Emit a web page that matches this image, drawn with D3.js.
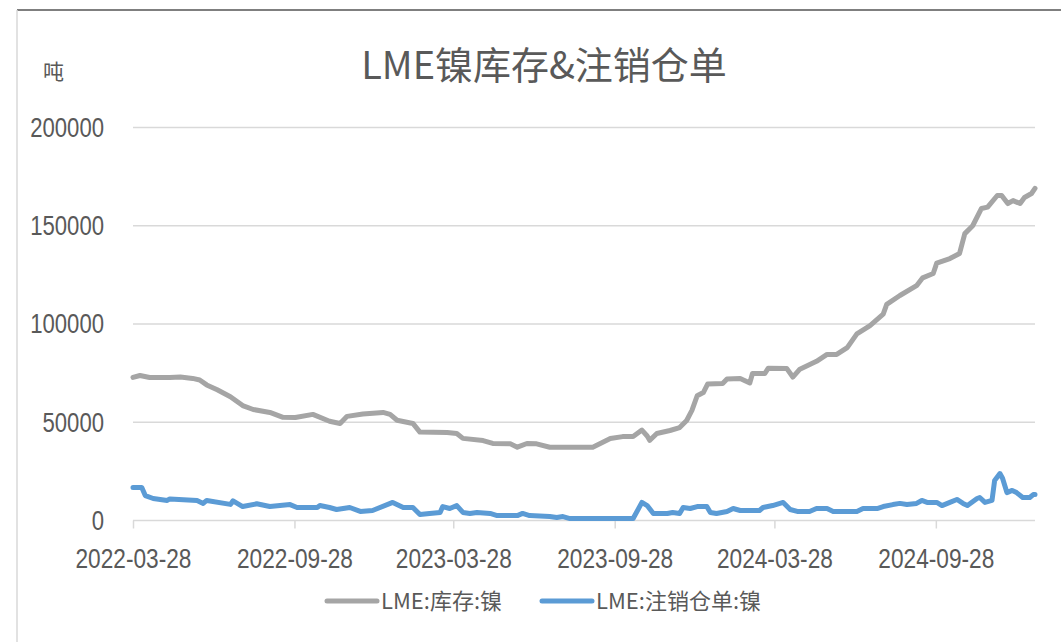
<!DOCTYPE html>
<html>
<head>
<meta charset="utf-8">
<script src="https://cdn.jsdelivr.net/npm/d3@7"></script>
<style>
  html, body { margin: 0; padding: 0; background: #fff; }
  svg { display: block; }
</style>
</head>
<body>
<svg id="chart" width="1061" height="642"></svg>
<script>
// ---- Data ----
const title = "LME镍库存&注销仓单";
const unitLabel = "吨";
const seriesNames = ["LME:库存:镍", "LME:注销仓单:镍"];
const xTickLabels = ["2022-03-28", "2022-09-28", "2023-03-28", "2023-09-28", "2024-03-28", "2024-09-28"];
const yTickValues = [0, 50000, 100000, 150000, 200000];
const xDomain = ["2022-03-28", "2025-01-19"];

const stockDates = ["2022-03-28","2022-04-05","2022-04-16","2022-05-09","2022-05-21","2022-06-04","2022-06-12","2022-06-20","2022-07-02","2022-07-17","2022-07-31","2022-08-12","2022-08-31","2022-09-15","2022-09-29","2022-10-19","2022-11-07","2022-11-19","2022-11-27","2022-12-15","2023-01-07","2023-01-15","2023-01-23","2023-02-10","2023-02-18","2023-03-21","2023-04-01","2023-04-08","2023-05-01","2023-05-12","2023-06-01","2023-06-09","2023-06-20","2023-07-01","2023-07-16","2023-09-03","2023-09-23","2023-10-07","2023-10-19","2023-10-29","2023-11-04","2023-11-07","2023-11-15","2023-11-30","2023-12-11","2023-12-19","2023-12-25","2023-12-31","2024-01-07","2024-01-12","2024-01-29","2024-02-03","2024-02-18","2024-02-29","2024-03-03","2024-03-17","2024-03-21","2024-04-11","2024-04-18","2024-04-26","2024-05-15","2024-05-27","2024-06-07","2024-06-19","2024-06-30","2024-07-15","2024-07-30","2024-08-03","2024-08-18","2024-09-06","2024-09-13","2024-09-25","2024-09-29","2024-10-14","2024-10-25","2024-10-31","2024-11-09","2024-11-19","2024-11-26","2024-12-07","2024-12-12","2024-12-19","2024-12-25","2025-01-02","2025-01-07","2025-01-15","2025-01-19"];
const stockValues = [72800,73800,72800,72800,73000,72300,71500,69000,66500,63000,58500,56500,55000,52500,52400,54000,50500,49400,53000,54200,55000,54000,51000,49400,45000,44800,44300,41800,40700,39200,39000,37300,39200,39000,37300,37300,41700,42700,42700,46000,43000,40800,44300,45800,47300,50900,56000,63500,65100,69500,69700,72000,72300,70000,74800,74800,77500,77400,73000,77000,81000,84500,84500,88000,95000,99200,105000,110000,114500,119500,123500,125700,131000,133300,135900,146000,150000,158800,159500,165400,165400,161300,162800,161300,164400,166400,169000];

const cancelDates = ["2022-03-28","2022-04-07","2022-04-11","2022-04-20","2022-05-06","2022-05-09","2022-06-09","2022-06-16","2022-06-20","2022-07-17","2022-07-20","2022-07-31","2022-08-16","2022-08-31","2022-09-23","2022-10-01","2022-10-24","2022-10-27","2022-11-07","2022-11-15","2022-11-30","2022-12-12","2022-12-26","2023-01-18","2023-01-30","2023-02-10","2023-02-18","2023-03-01","2023-03-13","2023-03-16","2023-03-24","2023-04-01","2023-04-08","2023-04-16","2023-04-24","2023-05-09","2023-05-17","2023-06-09","2023-06-15","2023-06-23","2023-07-16","2023-07-24","2023-07-31","2023-08-08","2023-10-19","2023-10-29","2023-11-04","2023-11-11","2023-11-27","2023-12-03","2023-12-11","2023-12-15","2023-12-23","2023-12-31","2024-01-11","2024-01-15","2024-01-22","2024-02-03","2024-02-10","2024-02-18","2024-03-11","2024-03-15","2024-03-26","2024-04-07","2024-04-15","2024-04-23","2024-05-07","2024-05-15","2024-05-27","2024-06-03","2024-06-30","2024-07-07","2024-07-23","2024-07-30","2024-08-10","2024-08-18","2024-08-26","2024-09-06","2024-09-12","2024-09-18","2024-09-29","2024-10-05","2024-10-14","2024-10-22","2024-10-29","2024-11-03","2024-11-14","2024-11-17","2024-11-23","2024-12-01","2024-12-04","2024-12-10","2024-12-13","2024-12-18","2024-12-24","2024-12-29","2025-01-05","2025-01-13","2025-01-17","2025-01-19"];
const cancelValues = [16800,16800,12700,11200,10200,11000,10200,8700,10200,8200,10000,7100,8500,7100,8100,6600,6600,7600,6600,5600,6600,4600,5100,9200,6600,6600,3000,3600,4100,7100,6100,7600,4100,3600,4100,3600,2500,2500,3600,2500,2000,1500,2000,1000,1000,9200,7600,3600,3600,4100,3600,6600,6100,7100,7100,4100,3600,4600,6100,5100,5100,6600,7600,9200,5600,4600,4600,6100,6100,4600,4600,6100,6100,7100,8100,8700,8100,8700,10200,9200,9200,7600,9200,10700,8700,7600,11200,11700,9200,10200,20400,23900,21500,14200,15300,14200,11700,11700,13200,13200];

// ---- Drawing ----
const parse = d3.timeParse("%Y-%m-%d");
const svg = d3.select("#chart");
const textColor = "#595959";
const gridColor = "#d9d9d9";
const colors = ["#a5a5a5", "#5b9bd5"];
const numFont = "'Liberation Sans', Arial, sans-serif";
const cjkFont = "'Noto Sans CJK SC', 'Noto Sans', sans-serif";

const x = d3.scaleTime().domain(xDomain.map(parse)).range([133, 1035]);
const y = d3.scaleLinear().domain([0, 200000]).range([520.5, 127.5]);

// chart frame
svg.append("line").attr("x1", 17).attr("x2", 1061).attr("y1", 10).attr("y2", 10)
  .attr("stroke", "#7f7f7f").attr("stroke-width", 2);
svg.append("line").attr("x1", 17).attr("x2", 17).attr("y1", 10).attr("y2", 642)
  .attr("stroke", "#d9d9d9").attr("stroke-width", 1.5);

// gridlines
svg.append("g").selectAll("line").data(yTickValues.filter(v => v > 0)).join("line")
  .attr("x1", 133).attr("x2", 1035)
  .attr("y1", d => y(d)).attr("y2", d => y(d))
  .attr("stroke", gridColor).attr("stroke-width", 1.5);

// y axis labels (condensed look)
const yAxis = d3.axisLeft(y).tickValues(yTickValues).tickSize(0).tickPadding(0).tickFormat(d3.format("d"));
const gy = svg.append("g").attr("transform", "translate(104,0)").call(yAxis);
gy.select(".domain").remove();
gy.selectAll("text").attr("fill", textColor).style("font-family", numFont).style("font-size", "28px")
  .attr("transform", "scale(0.79,1)");

// x axis
const xAxis = d3.axisBottom(x).tickValues(xTickLabels.map(parse)).tickSize(8).tickPadding(20)
  .tickFormat(d3.timeFormat("%Y-%m-%d"));
const gx = svg.append("g").attr("transform", `translate(0,${y(0)})`).call(xAxis);
gx.select(".domain").attr("d", `M133,0H1035`).attr("stroke", gridColor).attr("stroke-width", 1.5);
gx.selectAll(".tick line").attr("stroke", gridColor).attr("stroke-width", 1.5);
gx.selectAll("text").attr("fill", textColor).style("font-family", numFont).style("font-size", "28px")
  .attr("transform", "scale(0.81,1)");

// lines
const line = d3.line().x(d => x(d[0])).y(d => y(d[1]));
const stockData = stockDates.map((d, i) => [parse(d), stockValues[i]]);
const cancelData = cancelDates.map((d, i) => [parse(d), cancelValues[i]]);
[stockData, cancelData].forEach((data, i) => {
  svg.append("path").datum(data)
    .attr("fill", "none").attr("stroke", colors[i]).attr("stroke-width", 5)
    .attr("stroke-linejoin", "round").attr("stroke-linecap", "round")
    .attr("d", line);
});

// title and unit
svg.append("text").attr("x", 544).attr("y", 79).attr("text-anchor", "middle")
  .attr("fill", textColor).style("font-family", cjkFont).style("font-size", "38px").text(title);
svg.append("text").attr("x", 43).attr("y", 79)
  .attr("fill", textColor).style("font-family", cjkFont).style("font-size", "21px").text(unitLabel);

// legend
const legendItems = [
  { x1: 327, x2: 377, tx: 381 },
  { x1: 542, x2: 592, tx: 596 }
];
legendItems.forEach((it, i) => {
  svg.append("line").attr("x1", it.x1).attr("x2", it.x2).attr("y1", 601).attr("y2", 601)
    .attr("stroke", colors[i]).attr("stroke-width", 5).attr("stroke-linecap", "round");
  svg.append("text").attr("x", it.tx).attr("y", 609)
    .attr("fill", textColor).style("font-family", cjkFont).style("font-size", "22px").text(seriesNames[i]);
});
</script>
</body>
</html>
